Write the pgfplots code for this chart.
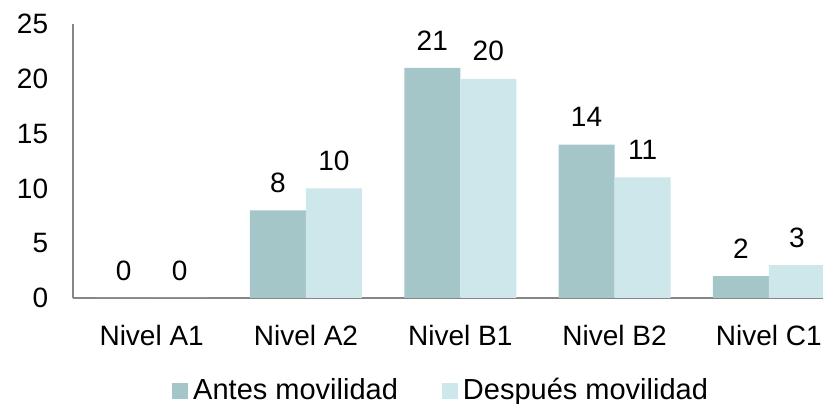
\documentclass[border=0pt]{standalone}
\usepackage{fontspec}
\setmainfont{Liberation Sans}
\usepackage{pgfplots}
\pgfplotsset{compat=1.18}
\definecolor{cA}{HTML}{A5C6C9}
\definecolor{cB}{HTML}{CDE7EA}
\definecolor{axg}{HTML}{868686}
\begin{document}
\begin{tikzpicture}[font=\fontsize{28}{34}\selectfont]
\begin{axis}[
  scale only axis, width=749.7pt, height=274pt,
  xmin=-0.508, xmax=4.351, ymin=0, ymax=25,
  axis x line=bottom, axis y line=left,
  axis line style={-, axg, line width=1.6pt},
  xtick={0,1,2,3,4},
  xticklabels={Nivel A1,Nivel A2,Nivel B1,Nivel B2,Nivel C1},
  ytick={0,5,10,15,20,25},
  major tick length=0pt,
  /pgf/number format/assume math mode=true,
  xticklabel style={inner sep=0pt, anchor=north, yshift=-27pt},
  yticklabel style={inner sep=0pt, anchor=east, xshift=-25pt},
  ybar=0pt, bar width=0.363,
  nodes near coords,
  every node near coord/.append style={inner sep=0pt, anchor=south, yshift=17.5pt, text=black},
  legend style={at={(axis description cs:0.1317,-0.378)}, anchor=south west,
    draw=none, fill=none, inner sep=0pt, legend columns=2,
    font=\fontsize{29}{35}\selectfont,
    /tikz/every even column/.append style={column sep=44pt},
    nodes={inner sep=0pt, text=black}},
  legend image code/.code={\fill[#1] (0pt,-9pt) rectangle (16pt,7pt); \path (0pt,0pt) (21pt,0pt);},
]
\addplot[fill=cA, draw=none, bar shift=-0.1815] coordinates {(0,0) (1,8) (2,21) (3,14) (4,2)};
\addplot[fill=cB, draw=none, bar shift=0.1815] coordinates {(0,0) (1,10) (2,20) (3,11) (4,3)};
\legend{Antes movilidad, Después movilidad}
\coordinate (bl) at (rel axis cs:0,0);
\end{axis}
\pgfresetboundingbox
\path (bl) ++(-73.3pt,-106pt) rectangle ++(823pt,404pt);
\end{tikzpicture}
\end{document}
